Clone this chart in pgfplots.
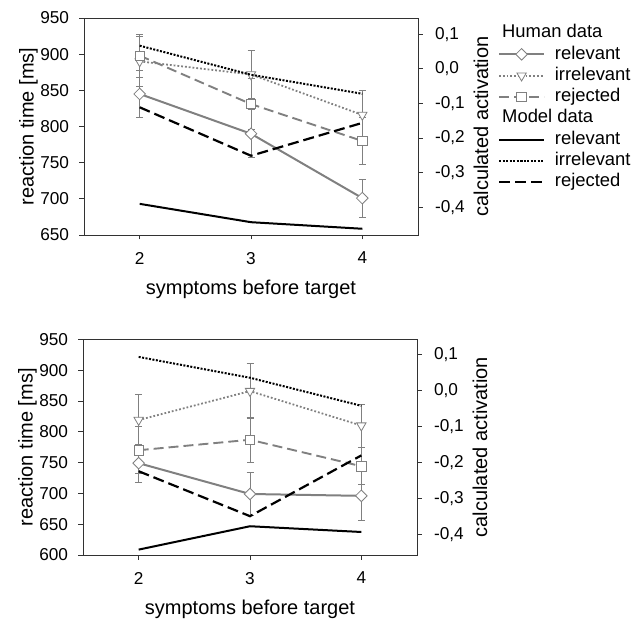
\documentclass[border=0pt]{standalone}
\usepackage{fontspec}
\setmainfont{Liberation Sans}
\usepackage{pgfplots}
\pgfplotsset{compat=1.18}

\definecolor{hgray}{RGB}{128,128,128}
\definecolor{frm}{RGB}{50,50,50}

\pgfplotsset{
  base/.style={
    scale only axis, width=334pt,
    xmin=1.5, xmax=4.5, xtick={2,3,4},
    tick align=outside, major tick length=4.5pt,
    tick style={frm, line width=0.8pt},
    axis line style={frm, line width=0.8pt},
    tick label style={font=\fontsize{17.2}{20}\selectfont},
    xticklabel style={yshift=-9pt},
    label style={font=\fontsize{20}{24}\selectfont},
    /pgf/number format/assume math mode=true,
    legend image code/.code={\draw[mark repeat=2,mark phase=2] plot coordinates {(0pt,0pt) (22.5pt,0pt) (45pt,0pt)};},
  },
  lefta/.style={base, xtick pos=bottom, ytick pos=left,
    yticklabel style={xshift=-7pt},
    ylabel={reaction time [ms]},
    ylabel style={at={(axis description cs:-0.166,0.5)}, anchor=center},
    xlabel={symptoms before target},
    xlabel style={at={(axis description cs:0.5,-0.25)}, anchor=center},
  },
  righta/.style={base, axis x line=none, axis y line*=right,
    ytick={-0.4,-0.3,-0.2,-0.1,0,0.1},
    yticklabel style={xshift=9pt, /pgf/number format/.cd, fixed, fixed zerofill, precision=1, use comma},
    ylabel={calculated activation},
    ylabel style={at={(axis description cs:1.1886,0.5)}, anchor=center},
  },
  hrel/.style={hgray, solid, line width=2pt, mark=square*, mark options={rotate=45, fill=white, draw=hgray, solid, line width=0.8pt, mark size=4.1pt}},
  hirr/.style={hgray, dash pattern=on 1.8pt off 2pt, line width=1.8pt, mark=triangle*, mark options={rotate=180, fill=white, draw=hgray, solid, line width=0.8pt, mark size=5.4pt}},
  hrej/.style={hgray, dash pattern=on 10pt off 5pt, line width=1.9pt, mark=square*, mark options={fill=white, draw=hgray, solid, line width=0.8pt, mark size=4.7pt}},
  mrel/.style={black, solid, line width=2pt, mark=none},
  mirr/.style={black, dash pattern=on 2pt off 1.5pt, line width=2pt, mark=none},
  mrej/.style={black, dash pattern=on 11pt off 5pt, line width=2.2pt, mark=none},
  eb/.style={error bars/.cd, y dir=both, y explicit,
    error mark=|,
    error bar style={hgray, solid, line width=0.8pt},
    error mark options={hgray, solid, line width=0.8pt, mark size=3.5pt}},
}

\begin{document}
\begin{tikzpicture}
\useasboundingbox (0,0) rectangle (640pt,619pt);

% ---------- top panel ----------
\begin{axis}[lefta, at={(84pt,384pt)}, anchor=south west, height=217pt,
  ymin=650, ymax=950, ytick={650,700,750,800,850,900,950}]
\addplot[hrel, eb] coordinates {(2,845) +- (0,32) (3,790) +- (0,33) (4,701) +- (0,26)};
\addplot[hirr, eb] coordinates {(2,890) +- (0,35) (3,872) +- (0,33) (4,816) +- (0,34)};
\addplot[hrej, eb] coordinates {(2,898) +- (0,30) (3,831) +- (0,35) (4,780) +- (0,33)};
\end{axis}
\begin{axis}[righta, at={(84pt,384pt)}, anchor=south west, height=217pt,
  ymin=-0.48, ymax=0.147,
  legend cell align=left,
  legend style={at={(1.2395,0.971)}, anchor=north west, draw=none, fill=none,
    inner sep=0pt, outer sep=0pt, font=\fontsize{18.4}{22}\selectfont,
    nodes={inner sep=0pt, text height=13.5pt, text depth=4pt},
    row sep=3.8pt, column sep=9.7pt}]
\addlegendimage{empty legend}\addlegendentry{\hspace*{-52.7pt}Human data}
\addlegendimage{hrel}\addlegendentry{relevant}
\addlegendimage{hirr}\addlegendentry{irrelevant}
\addlegendimage{hrej}\addlegendentry{rejected}
\addlegendimage{empty legend}\addlegendentry{\hspace*{-52.7pt}Model data}
\addplot[mrel] coordinates {(2,-0.390) (3,-0.443) (4,-0.462)};
\addlegendentry{relevant}
\addplot[mirr] coordinates {(2,0.067) (3,-0.017) (4,-0.072)};
\addlegendentry{irrelevant}
\addplot[mrej] coordinates {(2,-0.111) (3,-0.251) (4,-0.156)};
\addlegendentry{rejected}
\end{axis}

% ---------- bottom panel ----------
\begin{axis}[lefta, at={(83pt,64pt)}, anchor=south west, height=215.7pt,
  ymin=600, ymax=950, ytick={600,650,700,750,800,850,900,950}]
\addplot[hrel, eb] coordinates {(2,749) +- (0,31) (3,699) +- (0,35) (4,696) +- (0,40)};
\addplot[hirr, eb] coordinates {(2,819) +- (0,42) (3,866) +- (0,45) (4,810) +- (0,35)};
\addplot[hrej, eb] coordinates {(2,770) +- (0,38) (3,787) +- (0,36) (4,744) +- (0,30)};
\end{axis}
\begin{axis}[righta, at={(83pt,64pt)}, anchor=south west, height=215.7pt,
  ymin=-0.458, ymax=0.142]
\addplot[mrel] coordinates {(2,-0.443) (3,-0.378) (4,-0.394)};
\addplot[mirr] coordinates {(2,0.093) (3,0.035) (4,-0.043)};
\addplot[mrej] coordinates {(2,-0.225) (3,-0.350) (4,-0.181)};
\end{axis}
\end{tikzpicture}
\end{document}
